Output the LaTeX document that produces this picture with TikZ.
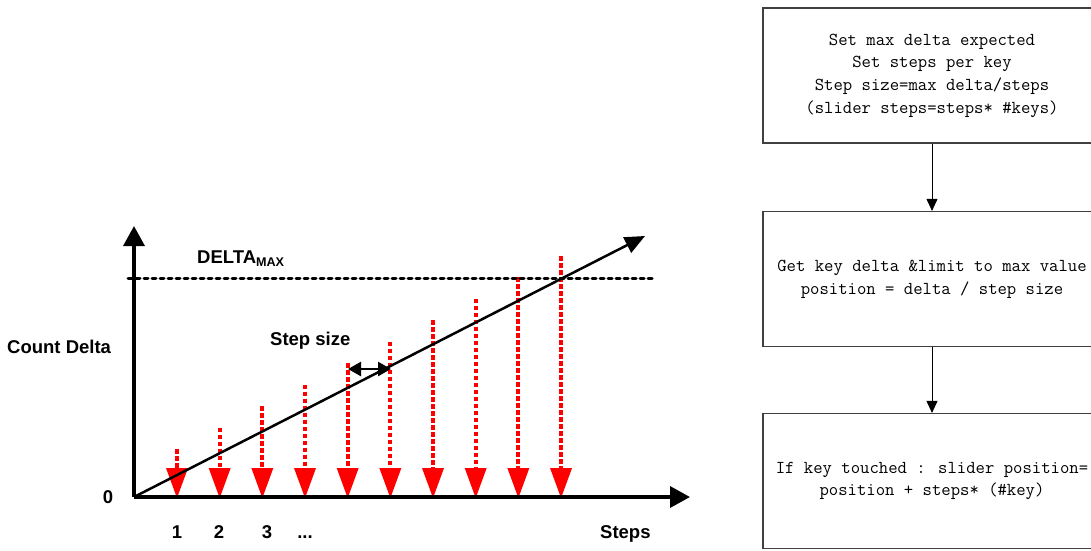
\documentclass[tikz,border=0pt]{standalone}
\usepackage{fontspec}
\setmainfont{Liberation Sans}
\usetikzlibrary{arrows.meta}
\begin{document}
\begin{tikzpicture}[x=1pt,y=-1pt,
  lbl/.style={font=\bfseries\fontsize{18.5}{22}\selectfont, inner sep=0pt},
  axisline/.style={line width=3.5pt, -{Triangle[length=20pt,width=21pt]}},
  redline/.style={red, line width=4pt, dash pattern=on 4.5pt off 2.5pt},
  redtri/.style={fill=red, draw=none},
  flowbox/.style={draw=black!75, line width=1.2pt, minimum width=338pt, minimum height=135pt,
    align=center, inner sep=0pt, font=\ttfamily\fontsize{18.2}{22.7}\selectfont},
  flowarrow/.style={line width=0.9pt, -{Triangle[length=12pt,width=11pt]}}
]
\useasboundingbox (0,0) rectangle (1091,550);
\clip (0,0) rectangle (1091,550);

% axes
\coordinate (O) at (134,497);
\coordinate (Ytop) at (134,226);
\coordinate (Xend) at (690,497);
\coordinate (Dend) at (645,236);
\coordinate (DMa) at (128,278);
\coordinate (DMb) at (655,278);

% red step arrows
\foreach \i in {0,...,9}{
  \pgfmathsetmacro{\xx}{177+\i*42.67}
  \pgfmathsetmacro{\yy}{449-\i*21.44}
  \coordinate (rt\i) at (\xx,\yy);
  \coordinate (rb\i) at (\xx,468);
  \draw[redline] (rt\i) -- (rb\i);
  \fill[redtri] (\xx-11,468) -- (\xx+11,468) -- (\xx,498) -- cycle;
}

\draw[line width=3pt, dash pattern=on 4pt off 4pt, line cap=round] (DMa) -- (DMb);
\draw[axisline] (O) -- (Ytop);
\draw[axisline] (O) -- (Xend);
\draw[line width=2.5pt, -{Triangle[length=20pt,width=17pt]}] (O) -- (Dend);

% step size arrow
\coordinate (Sa) at (348,369);
\coordinate (Sb) at (391,369);
\draw[line width=2.5pt, {Triangle[length=13pt,width=14pt]}-{Triangle[length=13pt,width=14pt]}] (Sa) -- (Sb);

% labels
\node[lbl, anchor=base west] (dmax) at (197,263) {DELTA\raisebox{-3pt}{\fontsize{12.6}{14}\selectfont MAX}};
\node[lbl, anchor=base west] (cd) at (7,353) {Count Delta};
\node[lbl, anchor=base west] (ss) at (270,345) {Step size};
\node[lbl, anchor=base] (zero) at (108,503) {0};
\node[lbl, anchor=base] (n1) at (177,538) {1};
\node[lbl, anchor=base] (n2) at (219,538) {2};
\node[lbl, anchor=base] (n3) at (267,538) {3};
\node[lbl, anchor=base] (n4) at (305,538) {...};
\node[lbl, anchor=base west] (steps) at (600,538) {Steps};

% flowchart
\node[flowbox] (b1) at (932,75.5) {Set max delta expected\\Set steps per key\\Step size=max delta/steps\\(slider steps=steps* \#keys)};
\node[flowbox] (b2) at (932,279) {Get key delta \&limit to max value\\position = delta / step size};
\node[flowbox] (b3) at (932,481) {If key touched : slider position=\\position + steps* (\#key)};
\draw[flowarrow] (b1) -- (b2);
\draw[flowarrow] (b2) -- (b3);
\end{tikzpicture}
\end{document}
